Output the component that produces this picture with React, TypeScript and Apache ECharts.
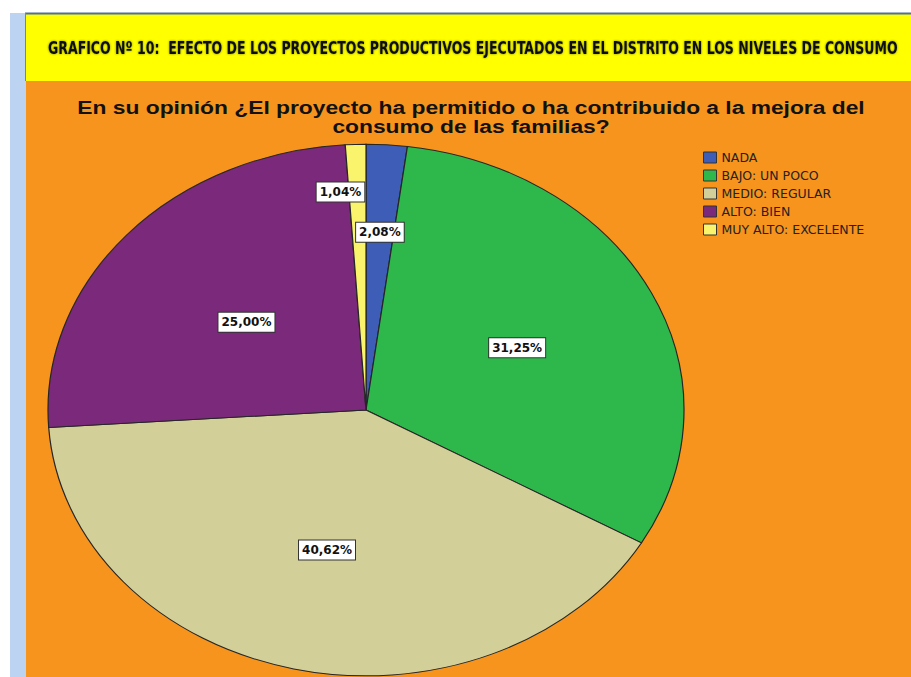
import React, { useEffect, useRef } from "react";
import * as echarts from "echarts";

const CATEGORIES = ["NADA", "BAJO: UN POCO", "MEDIO: REGULAR", "ALTO: BIEN", "MUY ALTO: EXCELENTE"];
const VALUES = [2.08, 31.25, 40.62, 25.0, 1.04];
const COLORS = ["#3d5db6", "#2eb84c", "#d3cf99", "#7b2a7b", "#f9f46c"];

const HEADER = "GRAFICO Nº 10:  EFECTO DE LOS PROYECTOS PRODUCTIVOS EJECUTADOS EN EL DISTRITO EN LOS NIVELES DE CONSUMO";
const TITLE = "En su opinión ¿El proyecto ha permitido o ha contribuido a la mejora del\nconsumo de las familias?";

// layout
const CX = 366;
const CY = 410;
const RX = 318;
const RY = 266;
const LABEL_R = [0.67, 0.53, 0.54, 0.5, 0.82];
const LABEL_DX = [0, 0, 0, 0, -17];

const fmt = (v: number) => v.toFixed(2).replace(".", ",") + "%";

export default function App() {
  const ref = useRef<HTMLDivElement>(null);
  useEffect(() => {
    if (!ref.current) return;
    const chart = echarts.init(ref.current, null, { renderer: "svg" });
    const total = VALUES.reduce((a, b) => a + b, 0);
    const cum: number[] = [];
    let acc = 0;
    VALUES.forEach((v) => {
      cum.push(acc);
      acc += v;
    });

    const series = CATEGORIES.map((name, i) => ({
      type: "custom",
      name,
      coordinateSystem: "none",
      itemStyle: { color: COLORS[i] },
      data: [VALUES[i]],
      renderItem: (_p: any, api: any) => {
        const v = api.value(0);
        const a0 = -Math.PI / 2 + (2 * Math.PI * cum[i]) / total;
        const a1 = a0 + (2 * Math.PI * v) / total;
        const mid = (a0 + a1) / 2;
        const lx = CX + LABEL_R[i] * RX * Math.cos(mid) + LABEL_DX[i];
        const ly = CY + LABEL_R[i] * RY * Math.sin(mid);
        return {
          type: "group",
          children: [
            {
              type: "sector",
              x: CX,
              y: CY,
              scaleY: RY / RX,
              shape: { cx: 0, cy: 0, r: RX, r0: 0, startAngle: a0, endAngle: a1, clockwise: true },
              style: { fill: COLORS[i], stroke: "#262626", lineWidth: 1.2, strokeNoScale: true },
            },
            {
              type: "text",
              x: lx,
              y: ly,
              z2: 100,
              style: {
                text: fmt(v),
                fill: "#111",
                fontSize: 12,
                fontWeight: "bold",
                fontFamily: "DejaVu Sans, sans-serif",
                align: "center",
                verticalAlign: "middle",
                backgroundColor: "#ffffff",
                borderColor: "#333",
                borderWidth: 1,
                padding: [4, 3, 3, 3],
              },
            },
          ],
        };
      },
    }));

    chart.setOption({
      animation: false,
      backgroundColor: "#ffffff",
      legend: {
        data: CATEGORIES,
        orient: "vertical",
        left: 698,
        top: 146,
        icon: "rect",
        itemWidth: 13,
        itemHeight: 11,
        itemGap: 5,
        itemStyle: { borderColor: "#333", borderWidth: 1 },
        textStyle: { fontSize: 12.5, lineHeight: 11, color: "#222", fontFamily: "DejaVu Sans, sans-serif" },
        selectedMode: false,
      },
      graphic: [
        { type: "rect", z: 0, shape: { x: 10, y: 13, width: 16, height: 664 }, style: { fill: "#bcd3f2" } },
        { type: "rect", z: 0, shape: { x: 25, y: 13, width: 886, height: 68 }, style: { fill: "#ffff00" } },
        { type: "rect", z: 0, shape: { x: 26, y: 81, width: 885, height: 596 }, style: { fill: "#f7941e" } },
        { type: "line", z: 0, shape: { x1: 25, y1: 13.5, x2: 911, y2: 13.5 }, style: { stroke: "#4f6f9f", lineWidth: 2 } },
        { type: "line", z: 0, shape: { x1: 25.5, y1: 13, x2: 25.5, y2: 81 }, style: { stroke: "#6f86a8", lineWidth: 1 } },
        {
          type: "text",
          z: 0,
          x: 48,
          y: 49,
          scaleX: 0.82,
          style: {
            text: HEADER,
            fill: "#111",
            fontSize: 17,
            fontWeight: "bold",
            fontFamily: "DejaVu Sans Condensed, Liberation Sans Narrow, sans-serif",
            verticalAlign: "middle",
            align: "left",
            textShadowColor: "rgba(40,50,0,0.6)",
            textShadowBlur: 2,
          },
        },
        {
          type: "text",
          z: 0,
          x: 471,
          y: 98,
          scaleX: 1.2,
          style: {
            text: TITLE,
            fill: "#111",
            fontSize: 19,
            fontWeight: "bold",
            lineHeight: 19,
            fontFamily: "Liberation Sans, Arial, sans-serif",
            align: "center",
            verticalAlign: "top",
          },
        },
      ],
      series,
    });
    return () => chart.dispose();
  }, []);
  return <div ref={ref} style={{ position: "fixed", left: 0, top: 0, width: 911, height: 677 }} />;
}
